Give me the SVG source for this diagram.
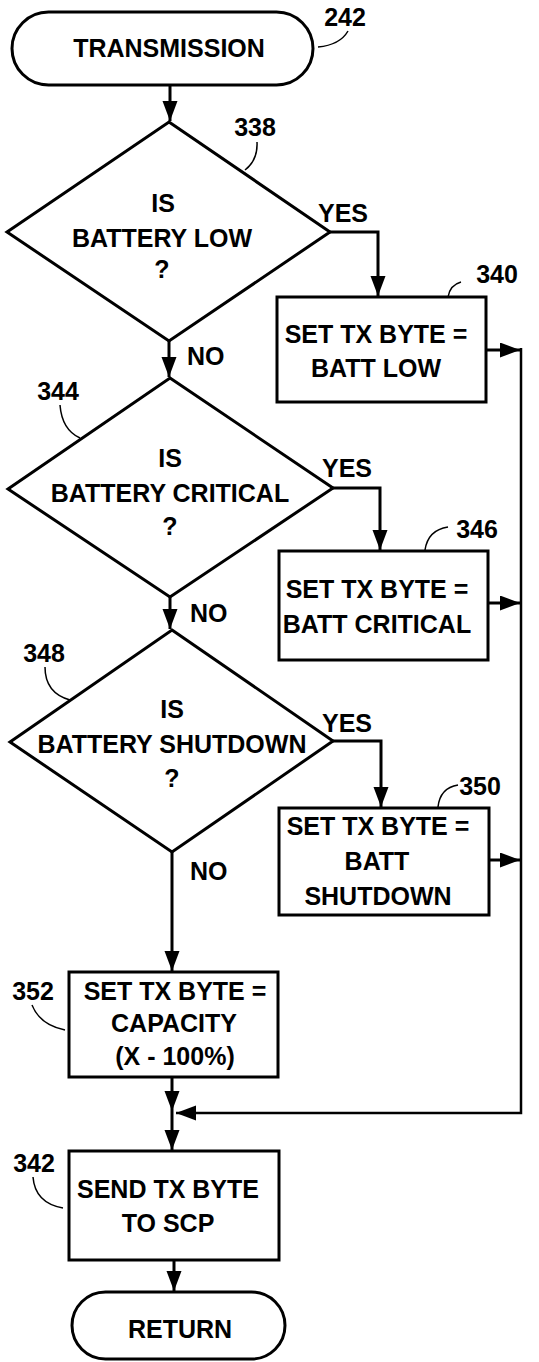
<svg xmlns="http://www.w3.org/2000/svg" width="539" height="1362" viewBox="0 0 539 1362">
<style>
.s{fill:#fff;stroke:#000;stroke-width:3;stroke-linejoin:miter}
.c{fill:none;stroke:#000;stroke-width:3}
.r{fill:none;stroke:#000;stroke-width:2.5}
.l{fill:none;stroke:#000;stroke-width:1.5}
text{font-family:"Liberation Sans",Arial,sans-serif;font-size:25px;font-weight:bold;fill:#000}
.m{text-anchor:middle}
</style>
<defs>
<marker id="a" markerUnits="userSpaceOnUse" markerWidth="21" markerHeight="16" refX="20" refY="7.5" orient="auto">
<path d="M0,0 L20,7.5 L0,15 z" fill="#000"/>
</marker>
</defs>
<rect width="539" height="1362" fill="#fff"/>
<g id="connectors">
<path class="c" d="M170,85 V121" marker-end="url(#a)"/>
<path class="c" d="M330,232 H378 V296" marker-end="url(#a)"/>
<path class="c" d="M169,341 V377" marker-end="url(#a)"/>
<path class="c" d="M333,488 H380 V550" marker-end="url(#a)"/>
<path class="c" d="M170,597 V629" marker-end="url(#a)"/>
<path class="c" d="M333,741 H381 V807" marker-end="url(#a)"/>
<path class="c" d="M172,852 V971" marker-end="url(#a)"/>
<path class="c" d="M486,350 H520" marker-end="url(#a)"/>
<path class="c" d="M488,603 H520" marker-end="url(#a)"/>
<path class="c" d="M489,860 H520" marker-end="url(#a)"/>
<path class="r" d="M521,348 V1113 H176" marker-end="url(#a)"/>
<path class="c" d="M172,1077 V1111" marker-end="url(#a)"/>
<path class="c" d="M172,1111 V1150" marker-end="url(#a)"/>
<path class="c" d="M174,1260 V1291" marker-end="url(#a)"/>
</g>
<g id="n242">
<rect class="s" x="12" y="12" width="301" height="73" rx="36.5"/>
<text class="m" x="169" y="57">TRANSMISSION</text>
<text class="m" x="345" y="26">242</text>
<path class="l" d="M318,47 Q340,45 348,31"/>
</g>
<g id="n338">
<polygon class="s" points="169,122 330,232 169,341 7,232"/>
<text class="m" x="163" y="212">IS</text>
<text class="m" x="162" y="247">BATTERY LOW</text>
<text class="m" x="162" y="278">?</text>
<text class="m" x="255" y="136">338</text>
<path class="l" d="M257,142 Q258,160 245,170"/>
<text x="318" y="222">YES</text>
<text x="187" y="365">NO</text>
</g>
<g id="n340">
<rect class="s" x="277" y="297" width="209" height="105"/>
<text class="m" x="376" y="343">SET TX BYTE =</text>
<text class="m" x="376" y="377">BATT LOW</text>
<text class="m" x="497" y="283">340</text>
<path class="l" d="M448,297 Q450,285 461,282"/>
</g>
<g id="n344">
<polygon class="s" points="170,378 333,488 170,597 8,489"/>
<text class="m" x="170" y="467">IS</text>
<text class="m" x="170" y="502">BATTERY CRITICAL</text>
<text class="m" x="170" y="535">?</text>
<text class="m" x="58" y="400">344</text>
<path class="l" d="M60,405 Q62,430 80,438"/>
<text x="322" y="477">YES</text>
<text x="190" y="622">NO</text>
</g>
<g id="n346">
<rect class="s" x="279" y="551" width="209" height="109"/>
<text class="m" x="377" y="598">SET TX BYTE =</text>
<text class="m" x="377" y="633">BATT CRITICAL</text>
<text class="m" x="477" y="538">346</text>
<path class="l" d="M425,550 Q428,530 448,527"/>
</g>
<g id="n348">
<polygon class="s" points="172,630 333,741 172,852 10,742"/>
<text class="m" x="172" y="718">IS</text>
<text class="m" x="172" y="753">BATTERY SHUTDOWN</text>
<text class="m" x="172" y="787">?</text>
<text class="m" x="44" y="662">348</text>
<path class="l" d="M45,667 Q45,693 70,700"/>
<text x="322" y="732">YES</text>
<text x="190" y="880">NO</text>
</g>
<g id="n350">
<rect class="s" x="279" y="808" width="210" height="107"/>
<text class="m" x="378" y="835">SET TX BYTE =</text>
<text class="m" x="377" y="870">BATT</text>
<text class="m" x="378" y="905">SHUTDOWN</text>
<text class="m" x="480" y="795">350</text>
<path class="l" d="M438,807 Q440,788 458,785"/>
</g>
<g id="n352">
<rect class="s" x="69" y="972" width="209" height="105"/>
<text class="m" x="175" y="1000">SET TX BYTE =</text>
<text class="m" x="174" y="1032">CAPACITY</text>
<text class="m" x="175" y="1065">(X - 100%)</text>
<text class="m" x="33" y="1000">352</text>
<path class="l" d="M32,1005 Q40,1025 65,1030"/>
</g>
<g id="n342">
<rect class="s" x="69" y="1151" width="210" height="109"/>
<text class="m" x="168" y="1198">SEND TX BYTE</text>
<text class="m" x="168" y="1232">TO SCP</text>
<text class="m" x="34" y="1172">342</text>
<path class="l" d="M33,1177 Q35,1203 63,1208"/>
</g>
<g id="return">
<rect class="s" x="72" y="1292" width="213" height="67" rx="33.5"/>
<text class="m" x="180" y="1338">RETURN</text>
</g>
</svg>
